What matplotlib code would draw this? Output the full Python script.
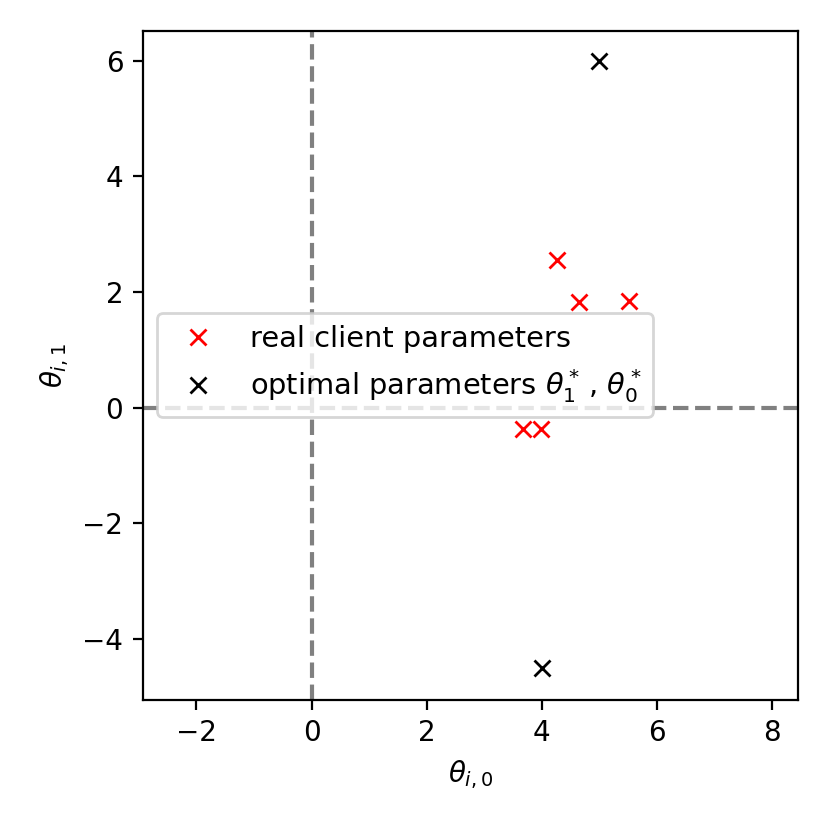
import matplotlib
matplotlib.use("Agg")
import matplotlib.pyplot as plt

real_x = [4.27, 4.64, 5.52, 3.68, 3.98]
real_y = [2.56, 1.82, 1.85, -0.37, -0.37]
opt_x = [5.0, 4.0]
opt_y = [6.0, -4.5]

fig = plt.figure(figsize=(4.15, 4.15), dpi=200)
ax = fig.add_axes([0.172, 0.157, 0.789, 0.806])
ax.axvline(0, color='gray', linestyle='--', lw=1.5)
ax.axhline(0, color='gray', linestyle='--', lw=1.5)
ax.plot(real_x, real_y, 'x', color='red', linestyle='none', label='real client parameters')
ax.plot(opt_x, opt_y, 'x', color='black', linestyle='none',
        label=r'optimal parameters $\theta_1^*\,$, $\theta_0^*$')
ax.set_xlim(-2.93, 8.44)
ax.set_ylim(-5.05, 6.52)
ax.set_xticks([-2, 0, 2, 4, 6, 8])
ax.set_yticks([-4, -2, 0, 2, 4, 6])
ax.set_xlabel(r'$\theta_{i,0}$')
ax.set_ylabel(r'$\theta_{i,1}$')
ax.legend(loc='center left', fontsize=10.4)
fig.savefig('out.png', dpi=200)
